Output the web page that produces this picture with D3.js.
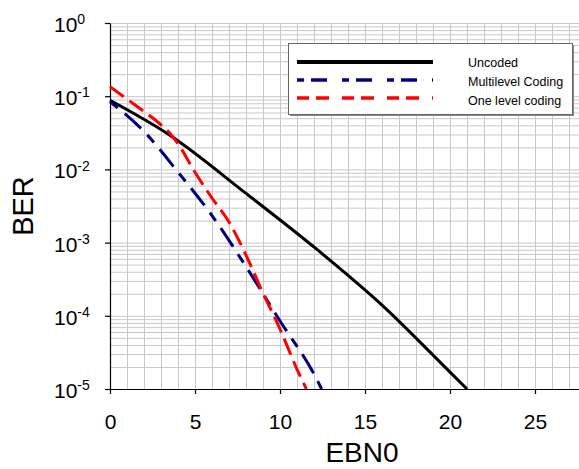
<!DOCTYPE html>
<html>
<head>
<meta charset="utf-8">
<script src="https://cdn.jsdelivr.net/npm/d3@7"></script>
<style>
  body { margin: 0; background: #fff; }
  svg { display: block; font-family: "Liberation Sans", Arial, sans-serif; }
  .grid line { stroke: #c8c8c8; stroke-width: 1; }
  .grid path { display: none; }
  .axis path, .axis line { stroke: #000; stroke-width: 1.2; }
</style>
</head>
<body>
<div id="chart"></div>
<script>
// data (BER vs EBN0)
var ebn0Uncoded = [0, 3.5, 8, 12, 16, 20, 21];
var berUncoded  = [0.088, 0.0295, 0.0047, 0.00087, 0.00014, 0.000017, 0.00001];

var ebn0Multi = [0, 2, 4, 6, 8, 10, 12, 12.45];
var berMulti  = [0.084, 0.033, 0.0092, 0.00234, 0.00047, 0.000085, 0.000016, 0.00001];

var ebn0One = [0, 1, 2, 3, 3.5, 4, 5, 6, 7, 8, 9, 10, 11, 11.55];
var berOne  = [0.135, 0.0912, 0.0617, 0.0407, 0.0316, 0.0224, 0.00912, 0.00407, 0.00191, 0.000676, 0.000204, 0.000066, 0.0000186, 0.00001];

var seriesNames = ["Uncoded", "Multilevel Coding", "One level coding"];
var xTicks = [0, 5, 10, 15, 20, 25];
var yTicks = [1, 0.1, 0.01, 0.001, 0.0001, 0.00001];
var yExponents = ["0", "-1", "-2", "-3", "-4", "-5"];

var W = 579, H = 469;
var margin = {top: 23, left: 110};
var plotW = 476, plotH = 366;   // x runs to 28, past the right edge

var svg = d3.select("#chart").append("svg")
    .attr("width", W)
    .attr("height", H);

var x = d3.scaleLinear().domain([0, 28]).range([margin.left, margin.left + plotW]);
var y = d3.scaleLog().domain([0.00001, 1]).range([margin.top + plotH, margin.top]);

// vertical grid, every unit
var xGridVals = d3.range(0, 29);
svg.append("g")
    .attr("class", "grid")
    .attr("transform", "translate(0," + (margin.top + plotH) + ")")
    .call(d3.axisBottom(x).tickValues(xGridVals).tickSize(-plotH).tickFormat(""));

// horizontal grid, 1..9 per decade
var yGridVals = [];
for (var k = -5; k < 0; k++) {
    for (var m = 1; m < 10; m++) yGridVals.push(m * Math.pow(10, k));
}
yGridVals.push(1);
svg.append("g")
    .attr("class", "grid")
    .attr("transform", "translate(" + margin.left + ",0)")
    .call(d3.axisLeft(y).tickValues(yGridVals).tickSize(-plotW).tickFormat(""));

// axes
svg.append("g")
    .attr("class", "axis")
    .attr("transform", "translate(0," + (margin.top + plotH) + ")")
    .call(d3.axisBottom(x).tickValues(xTicks).tickSize(5).tickSizeOuter(0).tickPadding(20).tickFormat(d3.format("d")))
    .selectAll("text")
    .attr("fill", "#000")
    .style("font-size", "21px");

var yAx = svg.append("g")
    .attr("class", "axis")
    .attr("transform", "translate(" + margin.left + ",0)")
    .call(d3.axisLeft(y).tickValues(yTicks).tickSize(5).tickSizeOuter(0).tickFormat(function() { return "10"; }));

yAx.selectAll("text")
    .attr("fill", "#000")
    .attr("text-anchor", "start")
    .attr("x", -56)
    .attr("dy", "0.4em")
    .style("font-size", "21px")
    .each(function(d, i) {
        d3.select(this).append("tspan")
            .attr("dy", "-0.55em")
            .style("font-size", "14px")
            .text(yExponents[i]);
    });

// axis titles
svg.append("text")
    .attr("transform", "translate(33," + (margin.top + plotH / 2) + ") rotate(-90)")
    .attr("text-anchor", "middle")
    .style("font-size", "29px")
    .text("BER");

svg.append("text")
    .attr("x", 362)
    .attr("y", 462)
    .attr("text-anchor", "middle")
    .style("font-size", "28px")
    .text("EBN0");

// curves
var line = d3.line()
    .x(function(d) { return x(d[0]); })
    .y(function(d) { return y(d[1]); })
    .curve(d3.curveMonotoneX);

var series = [
    {name: seriesNames[0], xs: ebn0Uncoded, ys: berUncoded, color: "#000000", dash: null, legDash: null, w: 3},
    {name: seriesNames[1], xs: ebn0Multi, ys: berMulti, color: "#000080", dash: "10,9,22,9", legDash: "7,7,16,15", w: 3},
    {name: seriesNames[2], xs: ebn0One, ys: berOne, color: "#ff0000", dash: "17,7", legDash: "12,7,13,13", w: 3}
];

series.forEach(function(s) {
    var pts = s.xs.map(function(v, i) { return [v, s.ys[i]]; });
    svg.append("path")
        .datum(pts)
        .attr("fill", "none")
        .attr("stroke", s.color)
        .attr("stroke-width", s.w)
        .attr("stroke-dasharray", s.dash)
        .attr("d", line);
});

// legend
var leg = svg.append("g");
leg.append("rect")
    .attr("x", 290).attr("y", 45)
    .attr("width", 284).attr("height", 71)
    .attr("fill", "#888");
leg.append("rect")
    .attr("x", 288.5).attr("y", 43.5)
    .attr("width", 284).attr("height", 71)
    .attr("fill", "#fff")
    .attr("stroke", "#666")
    .attr("stroke-width", 1);

series.forEach(function(s, i) {
    var ly = 62 + i * 18;
    leg.append("line")
        .attr("x1", 297).attr("x2", 433)
        .attr("y1", ly).attr("y2", ly)
        .attr("stroke", s.color)
        .attr("stroke-width", i === 0 ? 4 : 3.5)
        .attr("stroke-dasharray", s.legDash);
    leg.append("text")
        .attr("x", 468)
        .attr("y", ly + 4.5 + i)
        .style("font-size", "12.5px")
        .text(s.name);
});
</script>
</body>
</html>
